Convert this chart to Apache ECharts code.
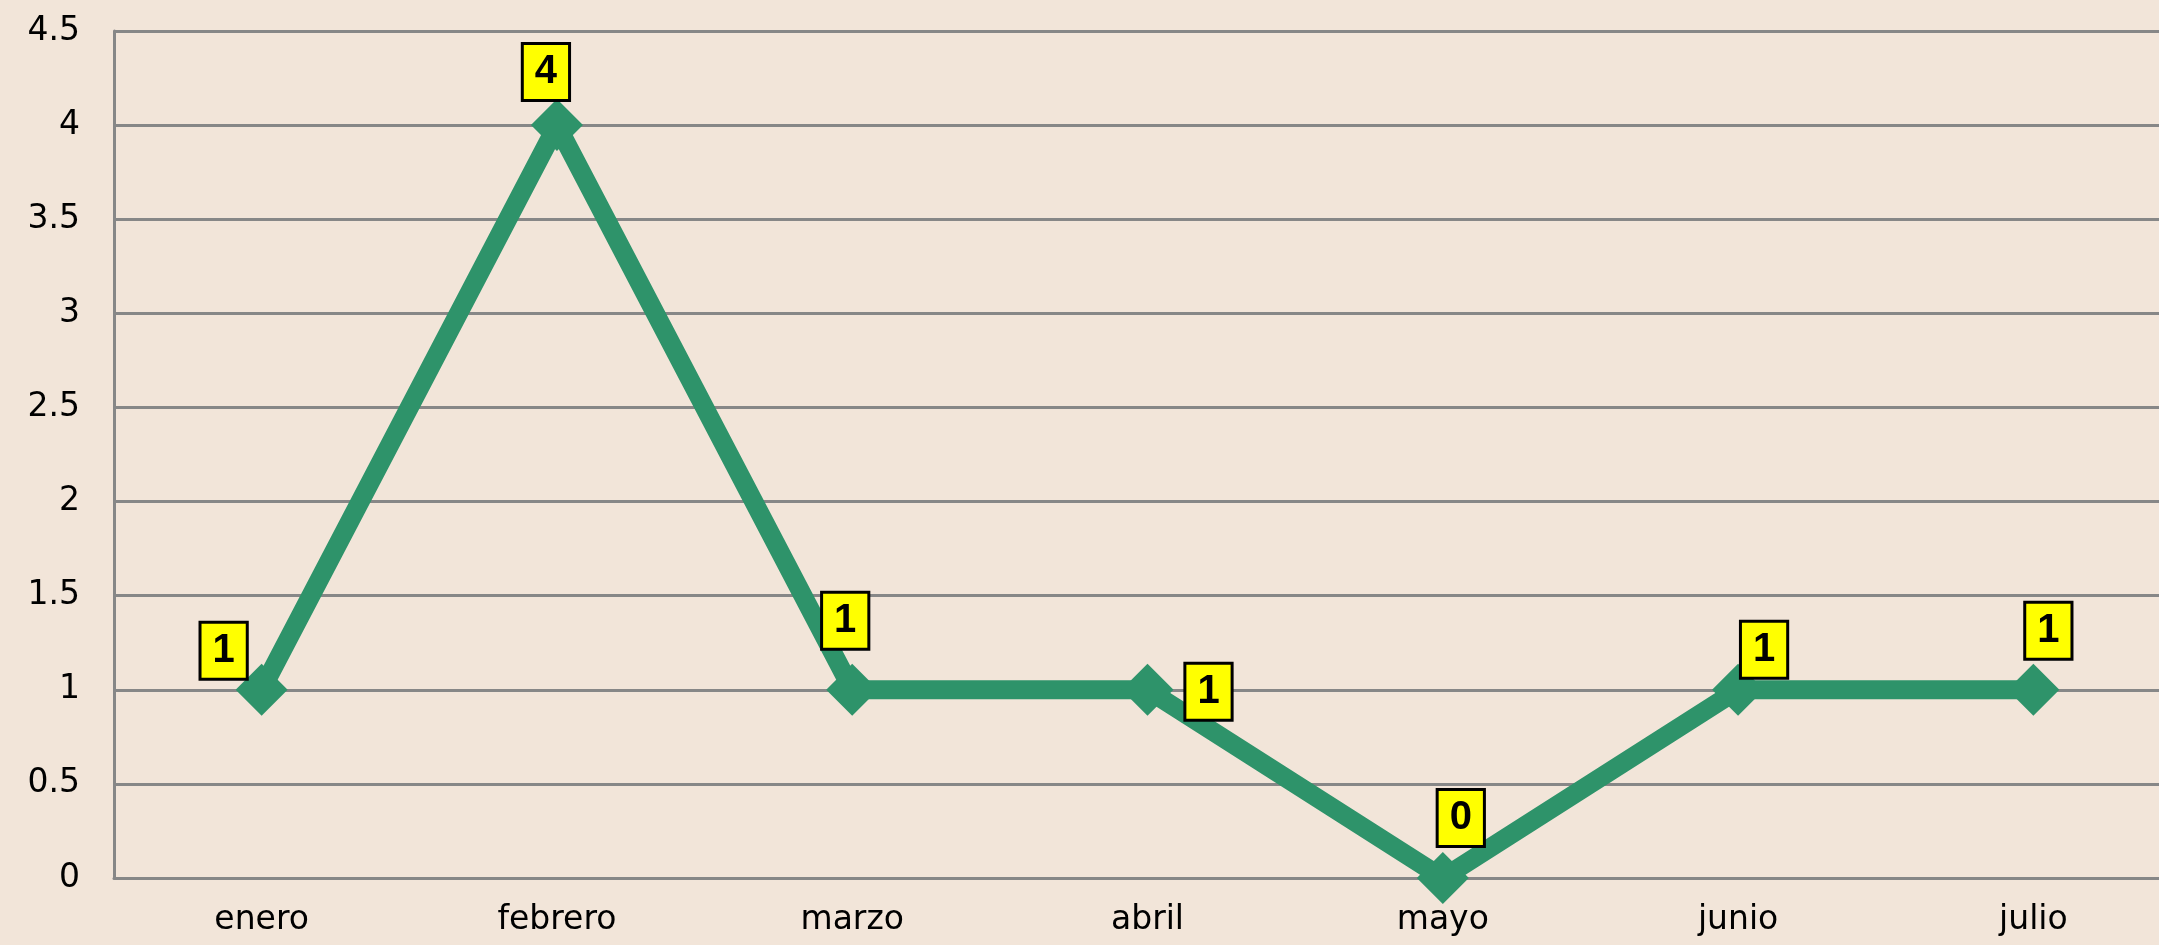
<!DOCTYPE html>
<html>
<head>
<meta charset="utf-8">
<script src="https://cdn.jsdelivr.net/npm/echarts@6/dist/echarts.min.js"></script>
<style>
html,body{margin:0;padding:0;background:#F2E5D9;}
#chart{width:2159px;height:945px;}
</style>
</head>
<body>
<div id="chart"></div>
<script>
const categories = ['enero', 'febrero', 'marzo', 'abril', 'mayo', 'junio', 'julio'];
const values = [1, 4, 1, 1, 0, 1, 1];
const yTicks = { min: 0, max: 4.5, interval: 0.5 };
// label placement (offset from marker centre), a style setting not data
const labelOffsets = [[-38, -39], [-11, -53], [-7, -69], [61, 2], [18, -60], [26, -40], [15, -59]];

const chart = echarts.init(document.getElementById('chart'), null, { renderer: 'canvas' });
const gridColor = '#878787';
chart.setOption({
  backgroundColor: '#F2E5D9',
  animation: false,
  grid: { left: 114, width: 2067, top: 31, bottom: 67, containLabel: false, outerBoundsMode: 'none' },
  xAxis: {
    type: 'category',
    data: categories,
    boundaryGap: true,
    axisLine: { show: true, lineStyle: { color: gridColor, width: 3 } },
    axisTick: { show: false },
    axisLabel: { color: '#000', fontFamily: 'DejaVu Sans', fontSize: 33, margin: 26 }
  },
  yAxis: {
    type: 'value',
    min: yTicks.min, max: yTicks.max, interval: yTicks.interval,
    axisLine: { show: true, lineStyle: { color: gridColor, width: 3 } },
    axisTick: { show: false },
    axisLabel: { color: '#000', fontFamily: 'DejaVu Sans', fontSize: 33, margin: 34 },
    splitLine: { show: true, lineStyle: { color: gridColor, width: 3 } }
  },
  series: [{
    type: 'line',
    data: values.map((v, i) => ({ value: v, label: { offset: labelOffsets[i] } })),
    lineStyle: { color: '#2E936A', width: 19 },
    itemStyle: { color: '#2E936A' },
    symbol: 'diamond',
    symbolSize: 52,
    label: {
      show: true,
      position: 'inside',
      color: '#000',
      fontFamily: 'Liberation Sans',
      fontWeight: 'bold',
      fontSize: 40,
      lineHeight: 38,
      backgroundColor: '#FFFF00',
      borderColor: '#000',
      borderWidth: 3,
      padding: [8, 11]
    }
  }]
});
</script>
</body>
</html>
